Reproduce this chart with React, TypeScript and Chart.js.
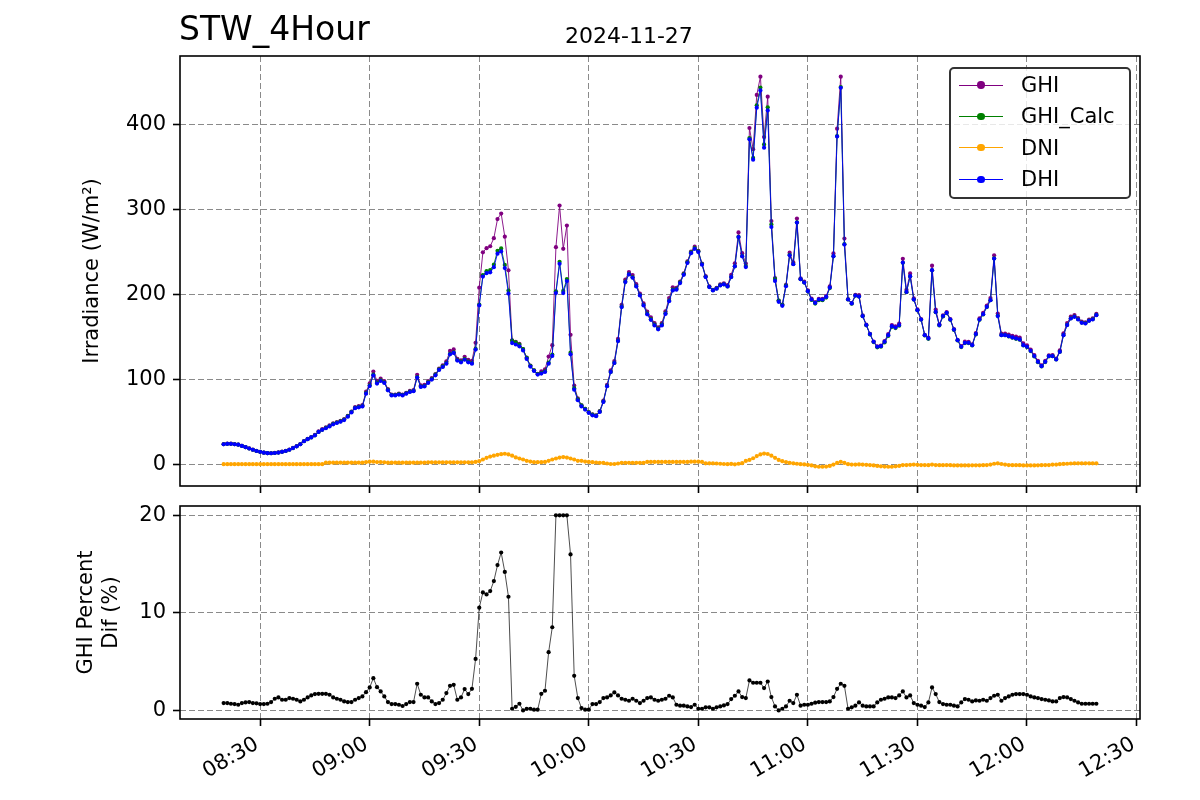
import React, { useEffect, useRef } from "react";
import { Chart, registerables } from "chart.js";

Chart.register(...registerables);

const FONT = "'DejaVu Sans', 'Liberation Sans', sans-serif";

// Data: one sample per minute starting at 08:20 (minutes of day)
const START_MIN = 8 * 60 + 20;
const X_TICKS = [510, 540, 570, 600, 630, 660, 690, 720, 750];
const TOP_Y_TICKS = [0, 100, 200, 300, 400];
const BOT_Y_TICKS = [0, 10, 20];
const SERIES_NAMES = ["GHI", "GHI_Calc", "DNI", "DHI"];
const SERIES_COLORS = ["#800080", "#008000", "#FFA500", "#0000FF"];
const TITLE = "STW_4Hour";
const DATE_LABEL = "2024-11-27";

const GHI = [
  23.7, 24.2, 24.2, 23.7, 23.1, 21.7, 20.2, 18.7, 17.1, 15.6,
  14.6, 13.6, 13.1, 13, 13.4, 13.9, 14.7, 15.7, 17.2, 19.2,
  21.2, 23.7, 27.3, 29.9, 32, 34.6, 38.7, 41.2, 43.5, 45.7,
  48.1, 49.6, 51.1, 53, 57, 62, 67.2, 68.4, 69.5, 85.4,
  95.1, 109.1, 98.1, 100.7, 97.8, 88.3, 82.1, 82.1, 83, 81.9,
  84.1, 86.3, 87.3, 105.3, 93, 93.4, 97.7, 101.3, 106.1, 112.6,
  116.5, 121.2, 133.4, 135.2, 124.1, 122.3, 126.4, 122.8, 121.8, 143,
  207.9, 249.6, 254.4, 256.7, 266.2, 288.7, 295.2, 268, 228.3, 146,
  144, 141.8, 135.7, 125.5, 116.1, 110.6, 106.3, 109.3, 111.6, 126.8,
  140.2, 255.6, 304.7, 253.7, 281, 152.4, 92.7, 77.5, 69.4, 65.3,
  61.3, 58.7, 57.5, 62.6, 74.8, 93.3, 110.4, 121.5, 147.5, 187.8,
  217.4, 226.3, 222.8, 212, 200.9, 189.4, 179.6, 173.1, 166.1, 161.2,
  166.1, 180, 195.7, 208.3, 207.6, 215.2, 224.9, 238.8, 250.4, 256.2,
  251.2, 236.3, 221.5, 209.6, 205.4, 207.7, 211.7, 213, 210.8, 223.1,
  236.6, 273, 248.6, 236.3, 396, 371.1, 434.9, 456.4, 385.3, 432.9,
  286.3, 219.2, 192.8, 188, 211.3, 249.1, 237.6, 289.4, 219, 215.2,
  204.8, 194.9, 190.8, 194.8, 194.8, 197.9, 209.4, 248.2, 395.2, 456.5,
  265.8, 194.4, 189.7, 199.5, 199.1, 175.2, 164.3, 153.6, 144.4, 138.9,
  139.8, 145.1, 153.2, 163.9, 162.4, 165.7, 241.9, 205.4, 224.7, 195.4,
  182.3, 171, 152.3, 149, 233.8, 182.1, 164.8, 175.2, 179.1, 171,
  159, 146.3, 139.1, 144.3, 144.2, 141.1, 154.4, 171.7, 178.3, 186.9,
  195.6, 246.1, 177.5, 153.7, 153.9, 152.7, 151.3, 150.2, 149.1, 142.2,
  140.1, 135.1, 128.6, 121.8, 116.5, 121.6, 128.3, 128.4, 124.5, 134.1,
  154.2, 166.2, 173.8, 175.7, 172.2, 168, 167.2, 170.4, 171.9, 177,
];

const GHI_CALC = [
  23.5, 24, 24, 23.5, 23, 21.5, 20, 18.5, 17, 15.5,
  14.5, 13.5, 13, 12.9, 13.2, 13.7, 14.5, 15.5, 17, 19,
  21, 23.5, 27, 29.5, 31.5, 34, 38, 40.5, 42.8, 45,
  47.5, 49, 50.5, 52.5, 56.5, 61.5, 66.5, 67.5, 68.5, 83.8,
  92.9, 105.6, 95.8, 98.8, 96.4, 87.5, 81.5, 81.5, 82.5, 81.5,
  83.5, 85.5, 86.5, 102.5, 91.5, 92.1, 96.4, 100.3, 105.4, 111.7,
  115.2, 119.1, 130.1, 131.7, 122.7, 120.7, 123.7, 120.7, 119.1, 135.8,
  188.1, 222.7, 227.3, 228.7, 235, 251.3, 254.1, 234.7, 204.5, 145.7,
  143.4, 140.8, 135.7, 125.2, 115.9, 110.5, 106.2, 107.4, 109.4, 119.6,
  129.2, 203.6, 238.3, 204.1, 218, 131.4, 89.5, 76.5, 69.2, 65.2,
  61.2, 58.3, 57.1, 62.1, 73.8, 92, 108.7, 119.3, 145.2, 185.5,
  215, 224, 220.1, 209.9, 199.3, 187.5, 177.3, 170.8, 164.3, 159.6,
  164.3, 177.8, 192.8, 205.5, 206.3, 214.1, 223.8, 237.8, 249.5, 254.6,
  250.7, 235.8, 220.7, 208.9, 205, 207, 210.8, 211.9, 209.4, 220.5,
  233, 267.7, 245.2, 233.3, 384.1, 360.8, 422.8, 443.7, 376.6, 420.3,
  282.4, 218.2, 192.7, 187.6, 210.4, 246.6, 235.8, 284.8, 217.9, 213.9,
  203.6, 193.5, 189.2, 193.1, 193.1, 196.2, 207.4, 244.8, 386.5, 444.2,
  259.2, 194, 189.1, 198.5, 197.4, 174.3, 163.6, 152.9, 143.8, 137.7,
  138.3, 143.4, 151.1, 161.7, 160.3, 163.2, 237.2, 202.6, 221.2, 193.9,
  181.2, 170.1, 151.7, 147.7, 228.4, 179.1, 163.4, 174, 178, 170,
  158.2, 145.7, 137.9, 142.6, 142.6, 139.8, 152.8, 170, 176.3, 185,
  193.1, 242.4, 174.7, 152.1, 151.9, 150.5, 148.9, 147.7, 146.6, 139.8,
  137.9, 133.2, 126.9, 120.2, 115.1, 120.3, 127, 127.2, 123.3, 132.4,
  152.1, 164, 171.8, 173.9, 170.7, 166.8, 166, 169.2, 170.7, 175.8,
];

const DNI = [
  0, 0, 0, 0, 0, 0, 0, 0, 0, 0,
  0, 0, 0, 0, 0, 0, 0, 0, 0, 0,
  0, 0, 0, 0, 0, 0, 0, 0, 1.8, 1.8,
  1.8, 1.8, 1.8, 1.8, 1.8, 1.8, 1.8, 1.8, 1.8, 2.5,
  3, 3, 2.5, 2.5, 2.2, 1.8, 1.8, 1.8, 1.8, 1.8,
  1.8, 1.8, 1.8, 1.8, 1.8, 1.8, 2.2, 2.2, 2.2, 2.2,
  2.2, 2.2, 2.2, 2.2, 2.2, 2.2, 2.2, 2.2, 2.2, 2.6,
  3.5, 5.5, 7.5, 9, 10, 11, 11.8, 12.3, 11.5, 10,
  8, 6.7, 5.5, 4, 3.1, 2.4, 2.4, 2.4, 2.7, 3.9,
  5.5, 6.7, 7.8, 8.4, 7.8, 6.7, 5.5, 4, 3.9, 3.1,
  2.7, 2.4, 2, 1.6, 1.5, 0.8, 0.2, 0.2, 0.8, 1.6,
  1.6, 1.6, 1.6, 1.6, 1.6, 1.6, 2.6, 2.6, 2.6, 2.6,
  2.6, 2.6, 2.6, 2.6, 2.6, 2.6, 2.6, 2.6, 3, 3,
  3, 2.6, 1, 1, 1, 0.8, 0.5, 0.2, 0, 0.3,
  -0.2, 0.5, 1.2, 3.8, 5, 7, 9.5, 11.5, 12.5, 12,
  10, 7.5, 5, 3.5, 2.5, 1.5, 1, 0.5, 0, -0.3,
  -0.8, -1.5, -2.5, -3, -3, -2.8, -2, -0.5, 1.5, 2.8,
  1.5, 0, -0.5, -0.5, -0.3, -0.5, -0.8, -1, -1.5, -2,
  -2.5, -2.8, -3, -3, -2.5, -2, -1, -1, -0.8, -0.5,
  -0.8, -1, -1, -1.2, -0.5, -1, -1.2, -1.2, -1, -1.2,
  -1.5, -1.5, -1.5, -1.5, -1.5, -1.3, -1.3, -1.3, -1.2, -1,
  -0.5, 0.5, 1, 0.2, -0.5, -1, -1.2, -1.2, -1.2, -1.5,
  -1.5, -1.5, -1.5, -1.3, -1.2, -1, -1, -0.5, -0.5, 0,
  0.3, 0.5, 0.8, 1, 1, 1, 1, 1, 1, 1,
];

const DHI = [
  23.5, 24, 24, 23.5, 23, 21.5, 20, 18.5, 17, 15.5,
  14.5, 13.5, 13, 12.9, 13.2, 13.7, 14.5, 15.5, 17, 19,
  21, 23.5, 27, 29.5, 31.5, 34, 38, 40.5, 42.3, 44.5,
  47, 48.5, 50, 52, 56, 61, 66, 67, 68, 83,
  92, 104.7, 95, 98, 95.7, 87, 81, 81, 82, 81,
  83, 85, 86, 102, 91, 91.6, 95.7, 99.6, 104.7, 111,
  114.5, 118.4, 129.4, 131, 122, 120, 123, 120, 118.4, 135,
  187, 221, 225, 226, 232, 248, 250.6, 231, 201, 142.7,
  141, 138.8, 134, 124, 115, 109.8, 105.5, 106.7, 108.6, 118.4,
  127.5, 201.6, 236, 201.6, 215.7, 129.4, 87.8, 75.3, 68, 64.3,
  60.4, 57.6, 56.5, 61.6, 73.3, 91.8, 108.6, 119.2, 145, 185,
  214.5, 223.5, 219.6, 209.4, 198.8, 187, 176.5, 170, 163.5, 158.8,
  163.5, 177, 192, 204.7, 205.5, 213.3, 223, 237, 248.6, 253.7,
  249.8, 235, 220.4, 208.6, 204.7, 206.7, 210.6, 211.8, 209.4, 220.4,
  233, 267.5, 244.8, 232.2, 382.6, 358.7, 419.9, 440.2, 372.8, 416.7,
  279.4, 215.9, 191.2, 186.5, 209.6, 246.1, 235.5, 284.6, 217.9, 214,
  203.8, 194, 190, 194, 194, 197, 208, 245, 386, 443.4,
  258.7, 194, 189.3, 198.7, 197.5, 174.4, 163.8, 153.2, 144.2, 138.3,
  139, 144.2, 152, 162.6, 161, 163.8, 237.5, 202.9, 221.4, 194,
  181.4, 170.4, 152, 148.1, 228.5, 179.4, 163.8, 174.4, 178.3, 170.4,
  158.6, 146.1, 138.3, 143, 143, 140.2, 153.2, 170.4, 176.7, 185.3,
  193.2, 242.2, 174.4, 152, 152, 150.8, 149.3, 148.1, 147, 140.2,
  138.3, 133.6, 127.3, 120.6, 115.5, 120.6, 127.3, 127.3, 123.4, 132.4,
  152, 163.8, 171.6, 173.6, 170.4, 166.5, 165.7, 168.9, 170.4, 175.5,
];

const GHI_PCT_DIF = [
  0.78, 0.78, 0.71, 0.68, 0.61, 0.78, 0.85, 0.88, 0.78, 0.75,
  0.68, 0.68, 0.71, 0.88, 1.22, 1.36, 1.12, 1.12, 1.29, 1.22,
  1.12, 0.95, 1.12, 1.36, 1.56, 1.7, 1.73, 1.73, 1.73, 1.63,
  1.36, 1.22, 1.12, 0.95, 0.88, 0.88, 1.12, 1.29, 1.46, 1.9,
  2.38, 3.33, 2.41, 1.97, 1.46, 0.88, 0.68, 0.68, 0.61, 0.48,
  0.68, 0.88, 0.88, 2.76, 1.63, 1.36, 1.36, 0.95, 0.68, 0.78,
  1.12, 1.8, 2.55, 2.65, 1.12, 1.36, 2.21, 1.7, 2.24, 5.3,
  10.54, 12.1, 11.9, 12.24, 13.27, 14.9, 16.19, 14.2, 11.66, 0.2,
  0.4, 0.71, 0.03, 0.2, 0.2, 0.1, 0.1, 1.73, 2.04, 5.99,
  8.54, 20, 20, 20, 20, 15.99, 3.57, 1.29, 0.27, 0.1,
  0.1, 0.68, 0.68, 0.88, 1.29, 1.36, 1.56, 1.87, 1.56, 1.22,
  1.12, 1.02, 1.22, 1.02, 0.78, 1.02, 1.29, 1.36, 1.12, 1.02,
  1.12, 1.22, 1.53, 1.36, 0.61, 0.51, 0.51, 0.44, 0.37, 0.61,
  0.2, 0.2, 0.34, 0.34, 0.2, 0.34, 0.44, 0.54, 0.68, 1.19,
  1.53, 1.97, 1.39, 1.29, 3.1, 2.86, 2.86, 2.86, 2.31, 2.99,
  1.39, 0.44, 0.03, 0.2, 0.44, 1.02, 0.78, 1.63, 0.51, 0.61,
  0.61, 0.71, 0.82, 0.88, 0.88, 0.88, 0.95, 1.39, 2.24, 2.76,
  2.55, 0.2, 0.34, 0.51, 0.85, 0.51, 0.44, 0.44, 0.44, 0.85,
  1.12, 1.22, 1.36, 1.36, 1.29, 1.56, 1.97, 1.36, 1.56, 0.78,
  0.61, 0.51, 0.37, 0.85, 2.38, 1.7, 0.88, 0.68, 0.61, 0.61,
  0.51, 0.44, 0.85, 1.19, 1.12, 0.95, 1.05, 1.02, 1.12, 1.02,
  1.29, 1.53, 1.63, 1.02, 1.29, 1.46, 1.63, 1.7, 1.7, 1.7,
  1.63, 1.46, 1.36, 1.29, 1.19, 1.12, 1.05, 0.95, 0.95, 1.29,
  1.39, 1.36, 1.19, 1.02, 0.85, 0.71, 0.71, 0.71, 0.71, 0.71,
];

const GRID_COLOR = "#8a8a8a";
const GRID_DASH = [6, 3];

function fmtTime(v: number): string {
  const h = Math.floor(v / 60);
  const m = Math.round(v - h * 60);
  return String(h).padStart(2, "0") + ":" + String(m).padStart(2, "0");
}

function toPoints(arr: number[]) {
  return arr.map((y, i) => ({ x: START_MIN + i, y }));
}

function zeroPadding(s: any) {
  s.paddingTop = 0;
  s.paddingBottom = 0;
  s.paddingLeft = 0;
  s.paddingRight = 0;
}

const framePlugin = {
  id: "mplFrame",
  afterDatasetsDraw(chart: any) {
    const { ctx, chartArea: a } = chart;
    ctx.save();
    ctx.strokeStyle = "#000";
    ctx.lineWidth = 1.6;
    ctx.strokeRect(a.left, a.top, a.right - a.left, a.bottom - a.top);
    ctx.restore();
  },
};

function xScale(showLabels: boolean, height: number) {
  return {
    type: "linear",
    min: 488.05,
    max: 750.95,
    afterBuildTicks: (s: any) => {
      s.ticks = X_TICKS.map((v) => ({ value: v }));
    },
    afterFit: (s: any) => {
      s.height = height;
      zeroPadding(s);
    },
    grid: {
      color: GRID_COLOR,
      lineWidth: 1,
      drawTicks: true,
      tickLength: 7,
      tickColor: "#000",
      tickWidth: 1.6,
    },
    border: { display: false, dash: GRID_DASH },
    ticks: {
      display: showLabels,
      autoSkip: false,
      minRotation: 30,
      maxRotation: 30,
      padding: 6,
      labelOffset: -3,
      color: "#000",
      font: { family: FONT, size: 21 },
      callback: (v: any) => fmtTime(Number(v)),
    },
  };
}

function yScale(min: number, max: number, ticks: number[], title: string | string[], titlePad: number) {
  return {
    type: "linear",
    min,
    max,
    afterBuildTicks: (s: any) => {
      s.ticks = ticks.map((v) => ({ value: v }));
    },
    afterFit: (s: any) => {
      s.width = 180;
      zeroPadding(s);
    },
    grid: {
      color: GRID_COLOR,
      lineWidth: 1,
      drawTicks: true,
      tickLength: 7,
      tickColor: "#000",
      tickWidth: 1.6,
    },
    border: { display: false, dash: GRID_DASH },
    ticks: {
      padding: 7,
      color: "#000",
      font: { family: FONT, size: 21 },
    },
    title: {
      display: true,
      text: title,
      color: "#000",
      font: { family: FONT, size: 21 },
      padding: { top: titlePad, bottom: 0 },
    },
  };
}

function TopChart() {
  const ref = useRef<HTMLCanvasElement | null>(null);
  useEffect(() => {
    if (!ref.current) return;
    const seriesData = [GHI, GHI_CALC, DNI, DHI];
    const datasets = SERIES_NAMES.map((name, i) => ({
      label: name,
      data: toPoints(seriesData[i]),
      borderColor: SERIES_COLORS[i],
      backgroundColor: SERIES_COLORS[i],
      pointBackgroundColor: SERIES_COLORS[i],
      pointBorderColor: SERIES_COLORS[i],
      borderWidth: 0.9,
      pointRadius: 2.1,
      pointBorderWidth: 0,
      pointHoverRadius: 2.1,
      tension: 0,
      fill: false,
      order: SERIES_NAMES.length - 1 - i,
    }));
    const chart = new Chart(ref.current, {
      type: "line",
      data: { datasets },
      plugins: [framePlugin],
      options: {
        responsive: false,
        animation: false,
        devicePixelRatio: 1,
        events: [],
        layout: { autoPadding: false, padding: { left: 0, right: 60, top: 56, bottom: 0 } },
        plugins: { legend: { display: false }, tooltip: { enabled: false }, title: { display: false } },
        scales: {
          x: xScale(false, 14),
          y: yScale(-25.7, 480.8, TOP_Y_TICKS, "Irradiance (W/m²)", 80),
        },
      } as any,
    });
    return () => chart.destroy();
  }, []);
  return (
    <canvas
      ref={ref}
      width={1200}
      height={500}
      style={{ position: "absolute", left: 0, top: 0, width: 1200, height: 500 }}
    />
  );
}

function BottomChart() {
  const ref = useRef<HTMLCanvasElement | null>(null);
  useEffect(() => {
    if (!ref.current) return;
    const chart = new Chart(ref.current, {
      type: "line",
      data: {
        datasets: [
          {
            label: "GHI Percent Dif",
            data: toPoints(GHI_PCT_DIF),
            borderColor: "#000",
            backgroundColor: "#000",
            pointBackgroundColor: "#000",
            borderWidth: 0.7,
            pointRadius: 2.1,
            pointBorderWidth: 0,
            pointHoverRadius: 2.1,
            tension: 0,
            fill: false,
          },
        ],
      },
      plugins: [framePlugin],
      options: {
        responsive: false,
        animation: false,
        devicePixelRatio: 1,
        events: [],
        layout: { autoPadding: false, padding: { left: 0, right: 60, top: 6, bottom: 0 } },
        plugins: { legend: { display: false }, tooltip: { enabled: false }, title: { display: false } },
        scales: {
          x: xScale(true, 81),
          y: yScale(-0.85, 20.95, BOT_Y_TICKS, ["GHI Percent", "Dif (%)"], 74),
        },
      } as any,
    });
    return () => chart.destroy();
  }, []);
  return (
    <canvas
      ref={ref}
      width={1200}
      height={300}
      style={{ position: "absolute", left: 0, top: 500, width: 1200, height: 300 }}
    />
  );
}

function Legend() {
  const rows = SERIES_NAMES.map((name, i) => {
    const cy = 85 + i * 31.4;
    const color = SERIES_COLORS[i];
    return (
      <React.Fragment key={name}>
        <div style={{ position: "absolute", left: 959, top: cy - 0.5, width: 44, height: 1, background: color }} />
        <div
          style={{
            position: "absolute",
            left: 981 - 3.7,
            top: cy - 3.7,
            width: 7.4,
            height: 7.4,
            borderRadius: "50%",
            background: color,
          }}
        />
        <div
          style={{
            position: "absolute",
            left: 1021,
            top: cy - 15,
            height: 30,
            lineHeight: "30px",
            fontSize: 21,
            fontFamily: FONT,
            color: "#000",
            whiteSpace: "nowrap",
          }}
        >
          {name}
        </div>
      </React.Fragment>
    );
  });
  return (
    <>
      <div
        style={{
          position: "absolute",
          left: 949,
          top: 67,
          width: 182,
          height: 132,
          boxSizing: "border-box",
          border: "2.7px solid #333",
          borderRadius: 5,
          background: "rgba(255,255,255,0.8)",
        }}
      />
      {rows}
    </>
  );
}

export default function App() {
  return (
    <div
      style={{
        position: "absolute",
        left: 0,
        top: 0,
        width: 1200,
        height: 800,
        background: "#fff",
        overflow: "hidden",
      }}
    >
      <TopChart />
      <BottomChart />
      <div
        style={{
          position: "absolute",
          left: 179,
          top: 12,
          fontSize: 33,
          lineHeight: 1,
          fontFamily: FONT,
          color: "#000",
          whiteSpace: "nowrap",
        }}
      >
        {TITLE}
      </div>
      <div
        style={{
          position: "absolute",
          left: 565,
          top: 24.5,
          fontSize: 22,
          lineHeight: 1,
          fontFamily: FONT,
          color: "#000",
          whiteSpace: "nowrap",
        }}
      >
        {DATE_LABEL}
      </div>
      <Legend />
    </div>
  );
}
